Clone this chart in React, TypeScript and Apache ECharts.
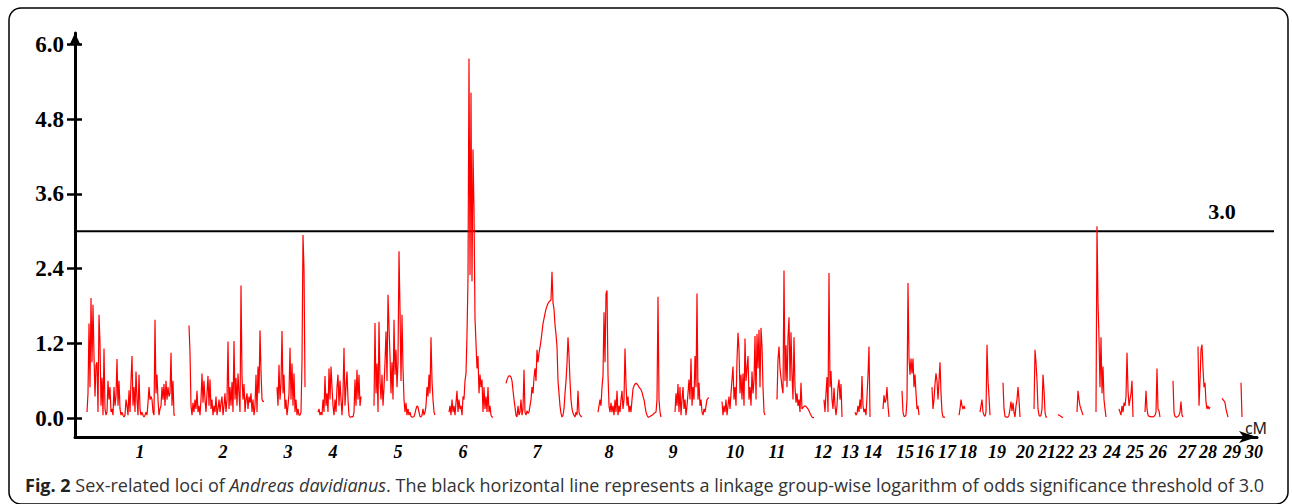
import React, { useEffect, useRef } from 'react';
import * as echarts from 'echarts';

const yTicks = [0, 1.2, 2.4, 3.6, 4.8, 6.0];
const threshold = 3.0;
const groupLabels = ['1','2','3','4','5','6','7','8','9','10','11','12','13','14','15','16','17','18','19','20','21','22','23','24','25','26','27','28','29','30'];
const groupLabelPos = [65,148,213,258,323,388,462,534,598,660,702,748,775,798,830,850,872,893,922,950,972,990,1013,1037,1060,1083,1112,1133,1157,1179];

const segStarts = [12,114,202,243,299,374,431,523,600,647,702,749,780,808,827,857,884,905,928,959,983,1002,1021,1044,1070,1098,1123,1147,1166];

const lg1 = [0.1,0.4,1.52,0.5,1.93,0.9,1.82,1.0,0.35,0.85,0.9,0.1,1.66,1.2,0.2,0.65,0.05,1.12,0.15,0.05,0.1,0.6,0.3,0.5,0.1,0.15,0.05,0.5,0.2,0.35,0.95,0.2,0.6,0.15,0.05,0.1,0.05,0.02,0.05,0.3,0.2,0.05,0.45,0.1,0.6,1.0,0.2,0.5,0.1,0.75,0.3,0.05,0.7,0.15,0.05,0.1,0.05,0.02,0.05,0.1,0.05,0.25,0.5,0.3,0.35,0.3,0.1,0.05,1.58,0.4,0.7,0.3,0.05,0.15,0.2,0.5,0.3,0.55,0.2,0.6,0.3,0.5,0.35,0.4,1.05,0.2,0.6,0.05,0.05];
const lg2 = [1.49,1.05,0.2,0.05,0.25,0.1,0.3,0.15,0.44,0.1,0.2,0.05,0.3,0.72,0.25,0.6,0.3,0.1,0.4,0.68,0.2,0.62,0.15,0.3,0.05,0.2,0.1,0.35,0.05,0.15,0.3,0.1,0.25,0.35,0.05,0.2,0.4,0.1,0.3,1.23,0.15,0.5,0.2,0.58,0.1,1.24,0.3,0.65,0.2,0.72,0.4,0.1,2.13,0.66,0.3,0.55,0.1,0.3,0.4,0.15,0.35,0.25,0.4,0.1,0.3,0.05,0.2,0.7,0.1,0.83,0.4,1.41,0.75,0.3,0.27,0.27];
const lg3 = [0.5,0.2,0.86,0.3,0.55,1.4,0.4,0.7,0.15,0.3,0.05,0.2,0.4,1.13,0.3,0.88,0.2,0.72,0.1,0.3,0.05,0.15,0.05,0.05,0.1,0.9,2.94,2.4,0.5];
const lg4 = [0.1,0.15,0.05,0.1,0.05,0.3,0.1,0.68,0.2,0.4,0.1,0.8,0.3,0.83,0.5,0.2,0.05,0.3,0.1,0.5,0.7,0.2,0.6,0.3,0.05,0.4,1.13,0.2,0.5,0.75,0.3,0.05,0.02,0.02,0.03,0.02,0.1,0.62,0.2,0.78,0.3,0.7,0.2,0.35];
const lg5 = [0.2,1.53,0.4,0.88,0.1,1.55,0.6,0.3,0.7,0.2,0.5,0.9,1.39,0.6,1.98,1.47,1.0,0.4,0.9,0.3,1.58,0.7,1.1,0.5,0.9,2.68,1.74,0.6,1.66,0.8,0.3,0.1,0.25,0.05,0.15,0.05,0.1,0.03,0.02,0.02,0.03,0.08,0.15,0.2,0.18,0.1,0.03,0.02,0.05,0.15,0.05,0.1,0.2,0.5,0.35,0.7,0.4,1.3,0.6,0.3,0.1,0.05];
const lg6 = [0.1,0.2,0.05,0.3,0.1,0.2,0.05,0.25,0.44,0.1,0.3,0.15,0.2,0.05,0.35,0.3,0.6,0.72,1.34,2.25,5.77,2.3,5.22,2.2,4.31,3.32,1.6,1.2,0.8,1.0,0.4,0.7,0.5,0.62,0.1,0.5,0.15,0.35,0.1,0.5,0.1,0.2,0.05,0.02,0.02];
const lg7 = [0.56,0.62,0.66,0.68,0.68,0.66,0.6,0.45,0.3,0.18,0.05,0.02,0.2,0.05,0.1,0.3,0.05,0.15,0.78,0.1,0.05,0.12,0.08,0.1,0.2,0.3,0.5,0.4,0.65,0.8,0.6,1.1,0.9,1.05,1.14,1.25,1.38,1.52,1.6,1.68,1.75,1.8,1.84,1.87,1.88,1.9,2.35,1.85,1.75,1.5,1.35,1.15,0.6,0.4,0.2,0.08,0.02,0.05,0.15,0.4,0.6,0.88,1.3,1.0,0.6,0.3,0.15,0.08,0.05,0.02,0.1,0.05,0.44,0.1,0.05,0.03,0.02];
const lg8 = [0.1,0.2,0.3,0.2,0.5,0.68,1.7,0.9,2.0,2.05,0.7,0.2,0.1,0.25,0.1,0.2,0.05,0.3,0.1,0.44,0.05,0.2,0.1,0.3,0.44,0.15,0.3,1.12,0.55,0.2,0.35,0.1,0.2,0.1,0.3,0.47,0.52,0.55,0.56,0.55,0.53,0.5,0.48,0.46,0.42,0.35,0.3,0.2,0.1,0.05,0.02,0.02,0.03,0.04,0.05,0.06,0.08,0.09,0.1,0.3,1.95,0.3,0.1,0.02];
const lg9 = [0.1,0.4,0.2,0.55,0.1,0.5,0.05,0.3,0.5,0.15,0.3,0.05,0.2,0.4,0.62,0.3,0.96,0.2,0.5,0.3,1.0,0.5,2.0,0.3,0.57,0.2,0.3,0.1,0.05,0.15,0.1,0.2,0.3,0.32,0.33];
const lg10 = [0.27,0.05,0.2,0.1,0.3,0.05,0.2,0.35,0.15,0.4,0.62,0.83,0.3,0.5,0.2,0.94,1.37,1.1,0.4,0.7,0.3,0.72,0.2,1.28,0.6,0.8,1.0,0.3,0.5,0.2,0.75,0.4,0.6,1.32,0.3,1.35,0.8,1.42,0.5,1.45,1.15,0.5,0.1,0.05];
const lg11 = [0.3,0.94,1.15,0.8,0.65,0.5,0.4,2.37,0.6,1.17,0.5,1.3,1.62,0.6,1.38,0.7,0.3,1.3,0.5,0.25,0.4,0.2,0.3,0.1,0.57,0.15,0.17,0.19,0.2,0.19,0.17,0.15,0.12,0.08,0.05,0.02,0.01,0.01];
const lg12 = [0.3,0.1,0.4,0.66,0.1,2.33,0.5,0.76,0.3,0.15,0.49,0.2,0.05,0.2,0.5,0.62,0.3,0.55,0.02];
const lg13 = [0.1,0.05,0.08,0.2,0.1,0.3,0.15,0.68,0.2,0.1,0.15,0.05,0.35,0.7,1.15,0.02];
const lg14 = [0.15,0.37,0.25,0.3,0.5,0.2,0.02];
const lg15 = [0.44,0.1,0.03,0.03,0.05,0.3,2.17,0.96,0.7,0.96,0.72,0.96,0.5,0.7,0.4,0.15,0.2,0.05];
const lg16 = [0.5,0.15,0.3,0.55,0.72,0.6,0.3,0.6,0.9,0.4,0.1,0.02,0.02,0.02];
const lg17 = [0.05,0.15,0.3,0.2,0.15,0.2,0.15];
const lg18 = [0.1,0.2,0.3,0.1,0.05,0.03,0.1,1.18,0.6,0.35,0.05];
const lg19 = [0.57,0.15,0.03,0.02,0.02,0.02,0.05,0.15,0.27,0.12,0.25,0.1,0.02,0.2,0.3,0.5,0.3,0.02];
const lg20 = [0.15,1.1,0.9,0.6,0.15,0.05,0.03,0.05,0.15,0.7,0.45,0.1,0.02,0.02];
const lg21 = [0.06,0.05,0.04,0.03,0.02,0.01];
const lg22 = [0.1,0.44,0.3,0.2,0.15,0.1,0.05];
const lg23 = [0.1,3.08,1.85,1.3,0.5,1.3,0.4,0.83,0.3,0.15,0.02];
const lg24 = [0.15,0.1,0.05,0.2,0.1,0.25,0.2,0.35,1.05,0.45,0.2,0.3,0.4,0.6,0.02];
const lg25 = [0.1,0.44,0.15,0.05,0.03,0.03,0.02,0.03,0.02,0.03,0.05,0.1,0.8,0.15,0.12,0.02];
const lg26 = [0.6,0.1,0.03,0.02,0.02,0.03,0.05,0.1,0.27,0.05,0.02];
const lg27 = [1.15,0.2,0.6,1.1,1.18,0.8,0.5,0.57,0.25,0.15,0.2,0.15,0.18];
const lg28 = [0.32,0.3,0.28,0.25,0.15,0.08,0.02];
const lg29 = [0.57,0.02];

const segments = [lg1,lg2,lg3,lg4,lg5,lg6,lg7,lg8,lg9,lg10,lg11,lg12,lg13,lg14,lg15,lg16,lg17,lg18,lg19,lg20,lg21,lg22,lg23,lg24,lg25,lg26,lg27,lg28,lg29];

const Y_MIN = -0.3;
const Y_MAX = 6.18;
const X_MAX = 1182;
const serif = "'Liberation Serif', 'Times New Roman', serif";
const capFont = "'Open Sans', 'Noto Sans', sans-serif";

export default function App() {
  const ref = useRef<HTMLDivElement>(null);
  useEffect(() => {
    document.body.style.margin = '0';
    const chart = echarts.init(ref.current!, null, { renderer: 'svg' });
    const lodData: any[] = [];
    segments.forEach((vals, k) => {
      vals.forEach((v, i) => lodData.push([segStarts[k] + i, v]));
      lodData.push([segStarts[k] + vals.length - 0.5, '-']);
    });
    chart.setOption({
      animation: false,
      backgroundColor: '#fff',
      grid: [
        { left: 75, right: 35, top: 33, bottom: 67 },
        { left: 75, right: 18, top: 33, bottom: 67 },
      ],
      xAxis: [
        {
          type: 'value', gridIndex: 0, min: 0, max: X_MAX,
          axisLine: { show: true, onZero: false, symbol: ['none', 'arrow'], symbolSize: [9, 18], lineStyle: { color: '#000', width: 3 } },
          axisTick: { show: false },
          splitLine: { show: false },
          axisLabel: {
            customValues: groupLabelPos,
            formatter: (v: number, idx: number) => {
              const j = groupLabelPos.indexOf(v);
              return groupLabels[j >= 0 ? j : idx];
            },
            margin: 6,
            color: '#000', fontFamily: serif, fontWeight: 'bold', fontStyle: 'italic', fontSize: 18,
          },
        },
        { type: 'value', gridIndex: 1, min: 0, max: 1, show: false },
      ],
      yAxis: [
        {
          type: 'value', gridIndex: 0, min: Y_MIN, max: Y_MAX, position: 'left',
          axisLine: { show: true, onZero: false, symbol: ['none', 'arrow'], symbolSize: [9, 13], lineStyle: { color: '#000', width: 3 } },
          axisTick: { show: true, customValues: yTicks, length: 8, lineStyle: { color: '#000', width: 2.5 } },
          splitLine: { show: false },
          axisLabel: {
            customValues: yTicks,
            formatter: (v: number) => v.toFixed(1),
            margin: 11,
            color: '#000', fontFamily: serif, fontWeight: 'bold', fontSize: 23,
          },
        },
        {
          type: 'value', gridIndex: 0, min: Y_MIN, max: Y_MAX, position: 'left', offset: 0,
          axisLine: { show: false },
          axisTick: { show: true, inside: true, customValues: yTicks, length: 7, lineStyle: { color: '#000', width: 2.5 } },
          splitLine: { show: false },
          axisLabel: { show: false },
        },
        { type: 'value', gridIndex: 1, min: Y_MIN, max: Y_MAX, show: false },
      ],
      series: [
        {
          type: 'line', xAxisIndex: 1, yAxisIndex: 2, data: [[0, threshold], [1, threshold]],
          symbol: 'none', silent: true, z: 1,
          lineStyle: { color: '#000', width: 2 },
        },
        {
          type: 'line', xAxisIndex: 0, yAxisIndex: 0, data: lodData,
          symbol: 'none', connectNulls: false, silent: true, z: 3,
          lineStyle: { color: '#ff0000', width: 1.2 },
        },
      ],
      graphic: [
        {
          type: 'rect', silent: true, z: 0,
          shape: { x: 9, y: 8, width: 1279, height: 496, r: 12 },
          style: { fill: 'none', stroke: '#000', lineWidth: 1.5 },
        },
        {
          type: 'text', silent: true, x: 1222, y: 211,
          style: { text: threshold.toFixed(1), fill: '#000', font: `bold 22px ${serif}`, align: 'center', verticalAlign: 'middle' },
        },
        {
          type: 'text', silent: true, x: 1256, y: 428,
          style: { text: 'cM', fill: '#222', font: "16px 'Noto Sans', sans-serif", align: 'center', verticalAlign: 'middle' },
        },
        {
          type: 'text', silent: true, x: 25, y: 485,
          style: {
            text: '{b|Fig. 2} Sex-related loci of {i|Andreas davidianus}. The black horizontal line represents a linkage group-wise logarithm of odds significance threshold of 3.0',
            fill: '#333', fontSize: 18, fontFamily: capFont,
            verticalAlign: 'middle', align: 'left',
            rich: {
              b: { fontWeight: 'bold', fill: '#222', fontSize: 18, fontFamily: capFont },
              i: { fontStyle: 'italic', fill: '#333', fontSize: 18, fontFamily: capFont },
            },
          },
        },
      ],
    });
    return () => chart.dispose();
  }, []);
  return <div ref={ref} style={{ width: 1292, height: 504 }} />;
}
